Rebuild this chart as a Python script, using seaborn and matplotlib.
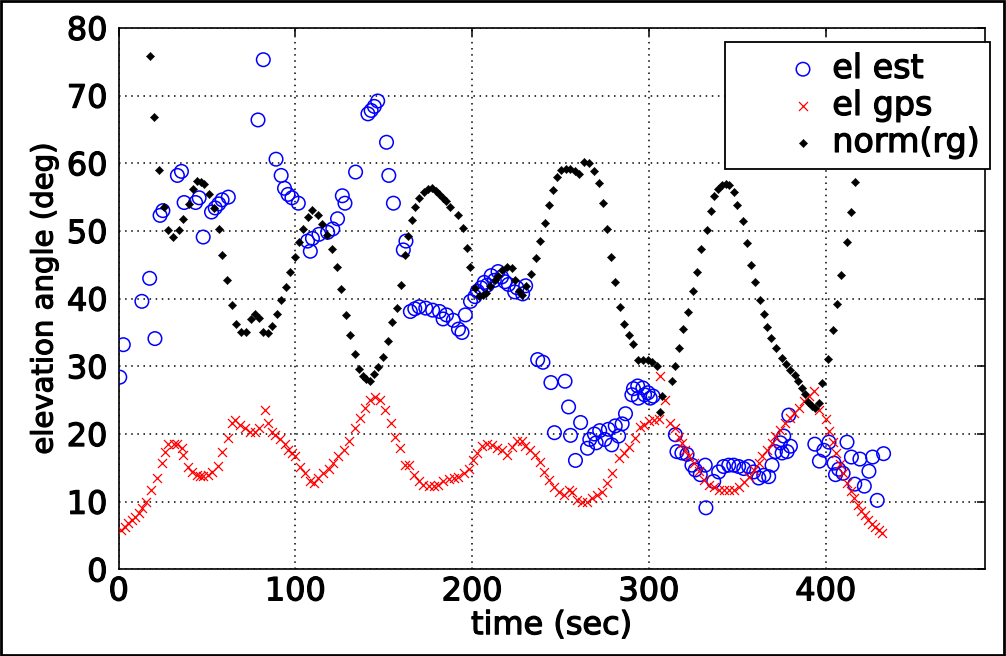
import numpy as np
import matplotlib
matplotlib.use("Agg")
import matplotlib.pyplot as plt
import matplotlib.patches as mpatches
import matplotlib.patheffects as pe
from matplotlib.collections import PathCollection
from matplotlib.legend_handler import HandlerPathCollection
import seaborn as sns

# el est (blue circles)
t_est = [0.6, 2.6, 13.1, 17.5, 20.5, 23.4, 25.0, 33.2, 35.5, 37.0, 43.5, 45.5, 47.8,
         52.5, 54.6, 56.6, 58.5, 62.0, 78.8, 81.8, 89.0, 91.9, 93.8, 95.8, 98.0, 101.6,
         106.8, 108.4, 109.6, 113.3, 118.2, 121.1, 123.8, 126.5, 128.0, 134.0, 141.0,
         142.8, 144.6, 146.5, 151.5, 152.8, 155.4, 161.0, 162.5, 165.0, 167.5, 170.0,
         173.7, 177.6, 181.5, 183.5, 185.4, 189.3, 192.2, 194.2, 196.1, 199.0, 201.5,
         202.9, 205.0, 206.8, 208.5, 210.7, 212.5, 214.6, 216.6, 218.5, 220.5, 224.0,
         225.3, 228.5, 230.2, 237.0, 240.0, 244.5, 246.5, 252.5, 254.5, 255.6, 258.4,
         261.3, 265.2, 266.5, 269.1, 270.1, 272.1, 275.0, 277.0, 278.9, 280.9, 282.8,
         284.8, 286.7, 290.3, 291.2, 293.6, 294.0, 296.5, 297.5, 299.4, 300.7, 302.3,
         314.9, 315.8, 318.6, 321.5, 324.3, 326.2, 329.0, 331.8, 332.2, 336.6, 339.4,
         342.2, 345.1, 347.9, 350.7, 353.6, 356.4, 359.2, 362.1, 364.9, 367.7, 369.6,
         371.5, 374.3, 375.3, 376.2, 378.1, 379.1, 380.0, 393.8, 396.4, 398.9, 401.8,
         404.7, 405.5, 407.3, 409.8, 412.0, 414.5, 416.4, 419.3, 421.8, 424.4, 426.5,
         429.1, 432.7]
el_est = [28.4, 33.2, 39.6, 43.0, 34.1, 52.3, 53.0, 58.2, 58.8, 54.2, 54.2, 54.9, 49.1,
          52.8, 53.4, 54.0, 54.6, 55.0, 66.4, 75.3, 60.6, 58.2, 56.3, 55.4, 54.9, 54.1,
          48.5, 47.0, 48.9, 49.5, 49.8, 50.3, 51.8, 55.2, 54.1, 58.7, 67.3, 67.8, 68.4,
          69.2, 63.1, 58.2, 54.1, 47.2, 48.5, 38.1, 38.5, 38.8, 38.6, 38.3, 38.1, 37.0,
          37.6, 36.8, 35.5, 35.0, 37.6, 39.6, 40.3, 41.1, 41.6, 42.4, 42.0, 43.4, 42.7,
          44.0, 43.2, 42.5, 42.1, 41.0, 41.6, 40.7, 41.9, 31.0, 30.6, 27.6, 20.2, 27.8,
          24.0, 19.8, 16.1, 21.7, 17.9, 19.2, 20.0, 18.7, 20.5, 19.2, 20.7, 18.4, 21.2,
          19.7, 21.5, 23.0, 25.8, 26.7, 27.1, 25.3, 26.8, 25.8, 26.1, 25.3, 25.6, 19.9,
          17.4, 17.2, 17.0, 15.4, 14.7, 14.0, 15.4, 9.1, 13.0, 14.4, 15.2, 15.4, 15.4,
          15.2, 14.9, 15.2, 14.4, 13.5, 13.9, 13.7, 15.4, 17.4, 18.7, 17.2, 19.7, 17.4,
          22.8, 18.2, 18.5, 16.0, 17.6, 18.8, 15.7, 14.0, 14.8, 14.2, 18.8, 16.6, 12.6,
          16.3, 12.3, 14.5, 16.6, 10.2, 17.1]

# el gps (red crosses)
t_gps = [1.3, 3.6, 5.5, 7.4, 9.2, 11.5, 13.4, 15.3, 18.3, 21.5, 24.3, 26.2, 28.1, 31.0,
         32.8, 35.7, 36.6, 39.0, 41.3, 44.1, 46.0, 47.9, 50.4, 52.6, 56.0, 58.3, 61.7,
         63.9, 65.8, 68.7, 71.5, 74.3, 77.1, 79.1, 82.8, 84.7, 86.6, 88.5, 91.3, 93.8,
         96.0, 97.9, 99.8, 102.6, 105.4, 108.3, 110.2, 113.0, 115.8, 118.7, 121.5, 124.3,
         127.2, 130.0, 133.7, 136.6, 139.4, 142.2, 145.1, 148.0, 150.8, 154.1, 156.4,
         159.2, 162.1, 164.0, 166.8, 169.6, 172.4, 175.3, 178.1, 180.9, 183.7, 186.6,
         189.4, 192.2, 195.1, 197.9, 200.7, 202.6, 205.4, 208.3, 211.1, 213.9, 216.7,
         219.6, 222.4, 225.2, 228.1, 230.0, 232.8, 235.6, 238.5, 240.4, 243.2, 246.0,
         248.9, 251.7, 254.5, 256.4, 259.2, 262.1, 264.9, 267.7, 270.6, 273.4, 276.2,
         279.1, 282.8, 285.7, 288.5, 292.3, 295.1, 297.0, 299.8, 302.6, 305.5, 306.4,
         309.2, 312.0, 314.9, 316.8, 318.7, 320.6, 322.5, 325.3, 328.1, 330.9, 333.8,
         336.6, 339.4, 342.2, 345.1, 347.9, 350.7, 353.6, 356.4, 359.2, 362.1, 364.0,
         366.8, 369.6, 371.5, 374.3, 377.2, 380.0, 381.9, 384.7, 387.5, 390.4, 393.2,
         396.0, 400.0, 402.0, 404.0, 406.0, 408.0, 410.0, 412.0, 414.0, 416.0, 418.0,
         420.0, 422.0, 424.0, 426.0, 428.0, 430.0, 432.0]
el_gps = [5.8, 6.3, 6.8, 7.3, 7.8, 8.3, 9.0, 10.0, 11.7, 13.5, 15.7, 17.3, 18.5, 18.6,
          18.5, 17.9, 16.9, 15.2, 14.4, 14.0, 13.8, 13.8, 14.0, 14.4, 15.3, 17.3, 19.4,
          21.6, 22.1, 21.3, 20.9, 20.3, 20.3, 20.9, 23.6, 21.6, 20.3, 19.9, 19.2, 18.6,
          17.6, 17.2, 16.7, 15.2, 14.2, 13.0, 12.7, 13.5, 14.2, 14.9, 15.7, 16.7, 17.6,
          18.9, 20.9, 22.3, 23.8, 25.0, 25.5, 25.0, 23.6, 21.6, 19.6, 17.9, 15.4, 15.4,
          14.0, 13.0, 12.5, 12.3, 12.3, 12.5, 13.0, 13.3, 13.5, 13.7, 14.2, 14.9, 16.2,
          17.2, 18.3, 18.6, 18.4, 17.9, 17.7, 16.9, 18.1, 18.9, 18.9, 18.3, 17.7, 16.9,
          15.9, 14.4, 13.2, 12.2, 11.5, 11.0, 11.7, 11.5, 10.3, 10.0, 10.0, 10.5, 11.0,
          11.5, 12.7, 14.2, 16.4, 17.2, 18.1, 19.4, 21.1, 21.4, 21.9, 22.1, 22.2, 28.6,
          25.0, 21.6, 20.9, 19.6, 18.7, 17.7, 16.7, 15.7, 14.5, 13.2, 12.5, 12.2, 11.7,
          11.7, 11.7, 11.7, 12.2, 12.9, 13.7, 14.7, 15.7, 16.7, 17.7, 18.7, 19.7, 20.6,
          21.6, 22.4, 23.1, 23.9, 24.9, 25.6, 26.4, 23.5, 22.2, 20.5, 18.8, 17.2, 15.6,
          14.2, 12.8, 11.6, 10.5, 9.5, 8.7, 8.0, 7.3, 6.7, 6.2, 5.8, 5.4]

# norm(rg) (black dots)
t_rg = [17.5, 20.0, 23.0, 25.5, 27.8, 30.5, 34.0, 36.5, 39.5, 42.0, 44.5, 46.5, 48.5,
        51.0, 53.8, 56.5, 58.6, 61.5, 64.0, 66.5, 69.0, 71.8, 74.8, 77.0, 79.3, 81.8,
        84.3, 86.8, 89.5, 92.0, 94.5, 97.0, 99.5, 102.0, 104.5, 107.0, 109.5, 112.5,
        115.0, 117.8, 120.5, 123.5, 126.0, 128.5, 131.0, 133.5, 135.8, 138.0, 140.0,
        142.0, 144.3, 146.8, 149.5, 152.3, 154.8, 157.3, 159.8, 162.0, 163.8, 165.8,
        167.8, 170.0, 172.7, 175.0, 177.5, 179.5, 181.4, 183.4, 185.4, 187.3, 191.8,
        194.5, 196.8, 198.8, 201.5, 203.9, 205.9, 207.8, 209.8, 212.7, 214.6, 216.6,
        219.5, 222.5, 224.4, 226.4, 228.3, 230.3, 233.2, 236.1, 238.1, 241.0, 243.5,
        245.5, 247.8, 250.3, 252.9, 255.4, 257.9, 260.5, 263.5, 265.8, 268.6, 271.5,
        274.0, 276.5, 278.6, 281.0, 283.5, 286.0, 288.5, 291.0, 293.8, 296.8, 299.4,
        301.7, 304.3, 306.4, 307.3, 312.9, 314.8, 316.7, 319.4, 322.2, 325.0, 326.9,
        329.4, 332.6, 335.0, 337.0, 338.9, 341.2, 343.5, 345.3, 347.8, 350.0, 353.0,
        355.5, 357.8, 360.1, 362.9, 365.0, 367.0, 369.0, 372.0, 375.1, 377.5, 379.8,
        382.4, 384.5, 386.5, 388.3, 390.2, 392.2, 394.0, 396.0, 398.0, 401.5, 404.3,
        406.2, 408.5, 412.0, 414.5, 416.8]
norm_rg = [75.8, 66.8, 59.0, 53.6, 50.2, 49.1, 50.2, 51.8, 54.0, 56.2, 57.4, 57.2, 57.0,
           55.5, 53.4, 50.3, 46.5, 42.8, 39.1, 36.3, 35.0, 35.0, 37.0, 37.7, 37.2, 35.0,
           34.9, 36.0, 37.8, 39.8, 41.7, 43.9, 46.2, 48.3, 50.3, 52.1, 53.1, 52.3, 51.1,
           49.4, 47.3, 44.7, 41.4, 37.6, 34.6, 31.8, 29.6, 28.5, 28.1, 27.9, 28.9, 29.9,
           31.4, 33.7, 36.5, 38.6, 42.0, 46.5, 49.3, 51.6, 53.6, 54.9, 55.7, 56.2, 56.3,
           55.9, 55.5, 54.9, 54.4, 53.6, 52.4, 50.4, 47.5, 44.7, 41.6, 40.4, 40.6, 40.9,
           41.9, 42.7, 43.4, 44.2, 44.7, 44.5, 42.7, 41.1, 40.6, 41.9, 43.7, 46.0, 48.5,
           51.2, 53.8, 56.1, 58.0, 59.0, 59.2, 59.2, 58.9, 58.4, 60.2, 60.0, 58.8, 57.1,
           54.2, 50.3, 46.2, 42.5, 38.7, 36.3, 34.7, 33.3, 30.9, 30.9, 30.9, 30.7, 30.0,
           23.3, 25.6, 27.8, 30.1, 32.7, 35.5, 38.1, 41.1, 43.9, 47.3, 50.1, 52.9, 55.2,
           56.2, 56.8, 57.0, 56.8, 55.7, 53.9, 51.4, 48.2, 45.0, 42.4, 39.8, 37.8, 35.8,
           34.2, 32.7, 31.2, 30.4, 29.4, 28.7, 27.8, 26.8, 25.9, 24.8, 24.2, 23.8, 24.6,
           27.5, 31.1, 35.3, 39.2, 43.5, 48.3, 52.8, 57.2]

sns.set_style("white")
plt.rcParams['font.family'] = ['DejaVu Sans']
plt.rcParams['text.color'] = 'black'
plt.rcParams['axes.labelcolor'] = 'black'

fig = plt.figure(figsize=(10.06, 6.56), dpi=100)
ax = fig.add_axes([0.118, 0.132, 0.861, 0.8255])

# MATLAB style markers
sns.scatterplot(x=t_est, y=el_est, marker='o', s=95, facecolors='none',
                edgecolor='blue', linewidth=1.1, label='el est', ax=ax, zorder=3)
sns.scatterplot(x=t_gps, y=el_gps, marker='x', s=42, color='red',
                linewidth=0.9, label='el gps', ax=ax, zorder=3)
sns.scatterplot(x=t_rg, y=norm_rg, marker='D', s=18, color='black',
                edgecolor='black', linewidth=0.3, label='norm(rg)', ax=ax, zorder=3)

ax.set_xlim(0, 490)
ax.set_ylim(0, 80)
ax.set_xticks([0, 100, 200, 300, 400])
ax.set_yticks(range(0, 81, 10))
ax.grid(True, color='black', linestyle=(0, (1, 3)), linewidth=1.1)
ax.set_axisbelow(True)
for sp in ax.spines.values():
    sp.set_visible(True)
    sp.set_color('black')
    sp.set_linewidth(1.2)
ax.tick_params(direction='in', length=6, width=1.1, top=True, right=True,
               labelsize=23, colors='black')
ax.tick_params(axis='y', pad=8)
ax.tick_params(axis='x', pad=5)
ax.set_xlabel('time (sec)', fontsize=23, labelpad=2)
ax.set_ylabel('elevation angle (deg)', fontsize=21, labelpad=6)

# legend box, marker shifted right like MATLAB
hmap = {PathCollection: HandlerPathCollection(xpad=1.41)}
leg = ax.legend(loc='upper right', bbox_to_anchor=(1.006, 0.974), borderaxespad=0,
                fontsize=24, frameon=True, fancybox=False, framealpha=1,
                edgecolor='black', handlelength=2.67, handletextpad=0.25,
                borderpad=0.3, labelspacing=0.12, scatterpoints=1, handler_map=hmap)
leg.get_frame().set_linewidth(1.3)

# heavier text, like the old bitmap fonts
heavy = [pe.withStroke(linewidth=0.9, foreground='black')]
texts = ax.get_xticklabels() + ax.get_yticklabels() + leg.get_texts()
texts += [ax.xaxis.label, ax.yaxis.label]
for t in texts:
    t.set_path_effects(heavy)

# border round the whole figure
fig.patches.append(mpatches.Rectangle((0.001, 0.001), 0.997, 0.997, transform=fig.transFigure,
                                      fill=False, edgecolor='black', linewidth=2))

fig.savefig('out.png', dpi=100)
